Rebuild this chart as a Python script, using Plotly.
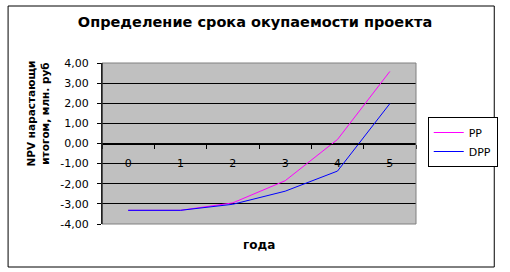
import plotly.graph_objects as go

years = ["0", "1", "2", "3", "4", "5"]
pp = [-3.32, -3.32, -2.95, -1.85, 0.20, 3.58]
dpp = [-3.32, -3.32, -3.02, -2.37, -1.37, 1.98]
y_ticks = [-4, -3, -2, -1, 0, 1, 2, 3, 4]
y_tick_labels = ["-4,00", "-3,00", "-2,00", "-1,00", "0,00", "1,00", "2,00", "3,00", "4,00"]

W, H = 510, 272
L, R, T, B = 102, 423, 63, 224
pw, ph = R - L, B - T

def px(x):
    return (x - L) / pw

def py(y):
    return (B - y) / ph

FONT = "DejaVu Sans"

fig = go.Figure()
fig.add_trace(go.Scatter(x=years, y=pp, name="PP", mode="lines",
                         line=dict(color="#ff00ff", width=1)))
fig.add_trace(go.Scatter(x=years, y=dpp, name="DPP", mode="lines",
                         line=dict(color="#0000ff", width=1)))

fig.update_layout(
    width=W, height=H,
    margin=dict(l=L, r=W - R, t=T, b=H - B, pad=0),
    paper_bgcolor="white",
    plot_bgcolor="#c0c0c0",
    font=dict(family=FONT, size=11, color="black"),
    title=dict(text="<b>Определение срока окупаемости проекта</b>",
               x=0.5, xanchor="center", y=1 - 22 / H, yanchor="middle",
               font=dict(family=FONT, size=14.5, color="black")),
    showlegend=True,
    legend=dict(x=px(435), y=py(142), xanchor="left", yanchor="middle",
                bordercolor="black", borderwidth=1, bgcolor="white",
                font=dict(size=11), tracegroupgap=0, itemwidth=30),
    xaxis=dict(type="category", range=[-0.5, 5.5], anchor="free", position=0.5,
               showgrid=False, showline=True, linecolor="black", linewidth=1,
               ticks="outside", ticklen=4, tickcolor="black", tickson="boundaries",
               ticklabelstandoff=9, zeroline=False, fixedrange=True),
    yaxis=dict(range=[-4, 4], tickvals=y_ticks, ticktext=y_tick_labels,
               showgrid=True, gridcolor="black", gridwidth=1,
               zeroline=False, showline=True, linecolor="black", linewidth=1,
               ticks="outside", ticklen=4, tickcolor="black",
               ticklabelstandoff=6, fixedrange=True),
    shapes=[
        dict(type="rect", xref="paper", yref="paper", x0=0, x1=1, y0=0, y1=1,
             line=dict(color="#808080", width=1), fillcolor="rgba(0,0,0,0)", layer="above"),
        dict(type="line", xref="paper", yref="paper", x0=0, x1=0, y0=0, y1=1,
             line=dict(color="black", width=1), layer="above"),
        dict(type="rect", xref="paper", yref="paper", x0=px(6), x1=px(503),
             y0=py(267), y1=py(6), line=dict(color="black", width=1),
             fillcolor="rgba(0,0,0,0)"),
    ],
    annotations=[
        dict(text="<b>года</b>", xref="paper", yref="paper", x=0.5, y=py(245),
             xanchor="center", yanchor="middle", showarrow=False,
             font=dict(family=FONT, size=12, color="black")),
        dict(text="<b>NPV нарастающи<br>итогом, млн. руб</b>", xref="paper", yref="paper",
             x=px(37), y=py(113), xanchor="center", yanchor="middle", textangle=-90,
             showarrow=False, font=dict(family=FONT, size=10.5, color="black")),
    ],
)

fig.write_html("out.html")
